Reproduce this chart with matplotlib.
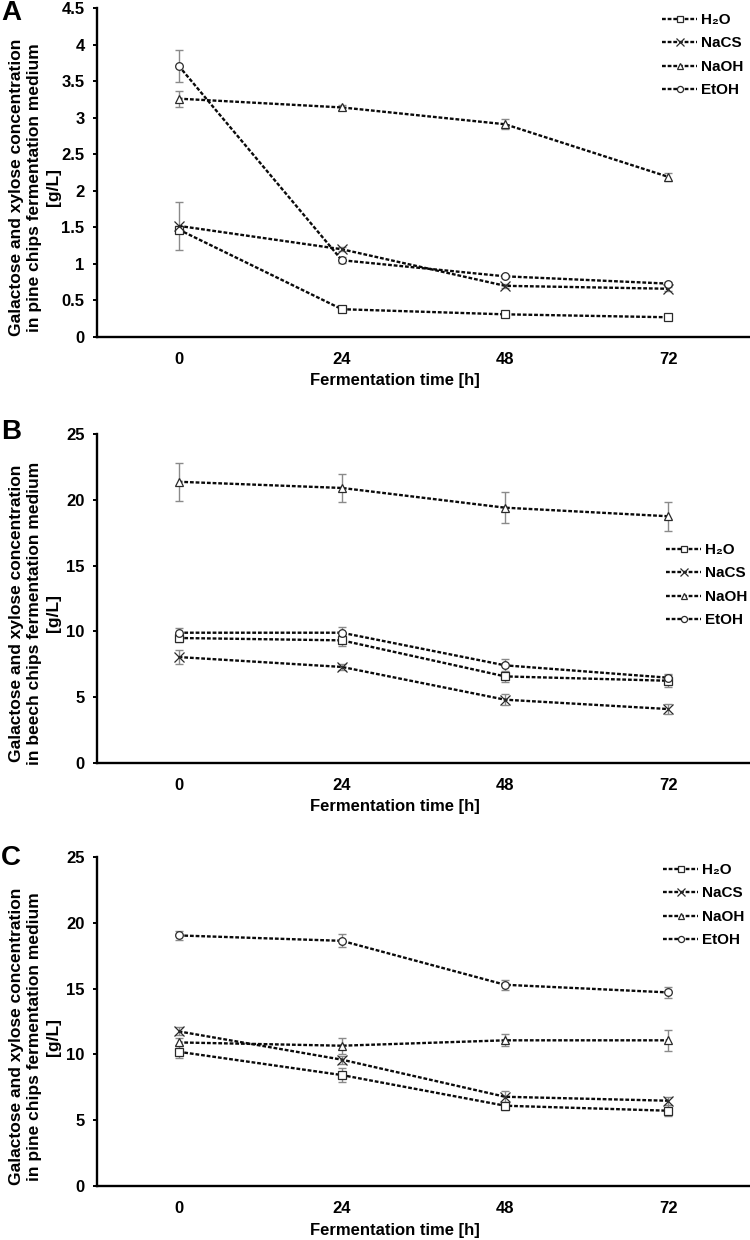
import matplotlib
matplotlib.use("Agg")
import matplotlib.pyplot as plt

plt.rcParams["font.family"] = ["Liberation Sans", "DejaVu Sans"]
plt.rcParams["font.weight"] = "bold"

W, H = 750, 1240

times = ["0", "24", "48", "72"]
labels = ["H\u2082O", "NaCS", "NaOH", "EtOH"]
markers = ["s", "x", "^", "o"]

# panel A - pine chips
a_h2o = [1.47, 0.38, 0.31, 0.27]
a_h2o_err = [0.05, 0.02, 0.02, 0.02]
a_nacs = [1.52, 1.20, 0.70, 0.66]
a_nacs_err = [0.33, 0.03, 0.03, 0.03]
a_naoh = [3.26, 3.14, 2.91, 2.19]
a_naoh_err = [0.11, 0.04, 0.07, 0.06]
a_etoh = [3.71, 1.05, 0.83, 0.73]
a_etoh_err = [0.22, 0.04, 0.02, 0.02]

# panel B - beech chips
b_h2o = [9.5, 9.32, 6.58, 6.25]
b_h2o_err = [0.3, 0.4, 0.4, 0.45]
b_nacs = [8.05, 7.3, 4.81, 4.1]
b_nacs_err = [0.55, 0.25, 0.4, 0.4]
b_naoh = [21.37, 20.9, 19.4, 18.75]
b_naoh_err = [1.45, 1.05, 1.2, 1.1]
b_etoh = [9.9, 9.9, 7.42, 6.48]
b_etoh_err = [0.35, 0.4, 0.5, 0.25]

# panel C - pine chips
c_h2o = [10.2, 8.43, 6.1, 5.72]
c_h2o_err = [0.5, 0.5, 0.3, 0.4]
c_nacs = [11.75, 9.6, 6.78, 6.48]
c_nacs_err = [0.3, 0.3, 0.45, 0.3]
c_naoh = [10.91, 10.66, 11.07, 11.07]
c_naoh_err = [0.3, 0.6, 0.45, 0.8]
c_etoh = [19.04, 18.63, 15.29, 14.71]
c_etoh_err = [0.35, 0.5, 0.4, 0.4]

a_ticks = [0, 0.5, 1, 1.5, 2, 2.5, 3, 3.5, 4, 4.5]
a_ticklabels = ["0", "0.5", "1", "1.5", "2", "2.5", "3", "3.5", "4", "4.5"]
bc_ticks = [0, 5, 10, 15, 20, 25]

LINE = "#0a0a0a"
MARK = "#2a2a2a"
ERR = "#8a8a8a"
FS = 12


def fx(px):
    return px / W


def fy(py):
    return 1 - py / H


def panel(fig, top, bottom, series, errs, yticks, yticklabels, ylim,
          letter, letter_y, medium, leg_xy):
    ax = fig.add_axes([fx(97), fy(bottom), fx(750) - fx(97), fy(top) - fy(bottom)])
    handles = []
    for vals, err, m, lab in zip(series, errs, markers, labels):
        ax.errorbar(times, vals, yerr=err, fmt="none", ecolor=ERR,
                    elinewidth=1.0, capsize=3, capthick=1.0, zorder=2)
        (h,) = ax.plot(times, vals, color=LINE, lw=1.7, linestyle=(0, (1.6, 0.8)),
                       marker=m, markersize=5.5 if m != "x" else 7,
                       markerfacecolor="white", markeredgecolor=MARK,
                       markeredgewidth=0.9, label=lab, zorder=3)
        handles.append(h)
    ax.set_xlim(-0.5, 3.5)
    ax.set_ylim(*ylim)
    ax.set_yticks(yticks)
    ax.set_yticklabels(yticklabels)
    for s in ["top", "right"]:
        ax.spines[s].set_visible(False)
    for s in ["left", "bottom"]:
        ax.spines[s].set_linewidth(1.7)
    ax.tick_params(axis="x", length=0, pad=11, labelsize=FS)
    ax.tick_params(axis="y", length=3, width=1.4, direction="out", pad=6, labelsize=FS)
    for t in ax.get_xticklabels() + ax.get_yticklabels():
        t.set_fontweight("bold")

    leg = ax.legend(handles=handles, loc="upper left",
                    bbox_to_anchor=(fx(leg_xy[0]), fy(leg_xy[1])),
                    bbox_transform=fig.transFigure, frameon=False,
                    fontsize=11, handlelength=2.3, handletextpad=0.25,
                    labelspacing=0.62, borderpad=0, borderaxespad=0,
                    markerscale=0.8)
    for t in leg.get_texts():
        t.set_fontweight("bold")

    fig.text(fx(395), fy(bottom + 44), "Fermentation time [h]", ha="center",
             va="center", fontsize=FS, fontweight="bold")
    fig.text(fx(35), fy((top + bottom) / 2 + 15),
             "Galactose and xylose concentration\nin " + medium +
             " fermentation medium\n[g/L]",
             rotation=90, ha="center", va="center", multialignment="center",
             fontsize=12.5, fontweight="bold", linespacing=1.33)
    fig.text(fx(1), fy(letter_y), letter, ha="left", va="center",
             fontsize=20, fontweight="bold")
    return ax


fig = plt.figure(figsize=(W / 100, H / 100), dpi=100)
fig.patch.set_facecolor("white")

panel(fig, 8, 337,
      [a_h2o, a_nacs, a_naoh, a_etoh],
      [a_h2o_err, a_nacs_err, a_naoh_err, a_etoh_err],
      a_ticks, a_ticklabels, (0, 4.5), "A", 13, "pine chips", (662, 13))
panel(fig, 434, 763,
      [b_h2o, b_nacs, b_naoh, b_etoh],
      [b_h2o_err, b_nacs_err, b_naoh_err, b_etoh_err],
      bc_ticks, [str(t) for t in bc_ticks], (0, 25), "B", 432, "beech chips", (666, 543))
panel(fig, 857, 1186,
      [c_h2o, c_nacs, c_naoh, c_etoh],
      [c_h2o_err, c_nacs_err, c_naoh_err, c_etoh_err],
      bc_ticks, [str(t) for t in bc_ticks], (0, 25), "C", 858, "pine chips", (663, 863))

fig.savefig("out.png", dpi=100, facecolor="white")
